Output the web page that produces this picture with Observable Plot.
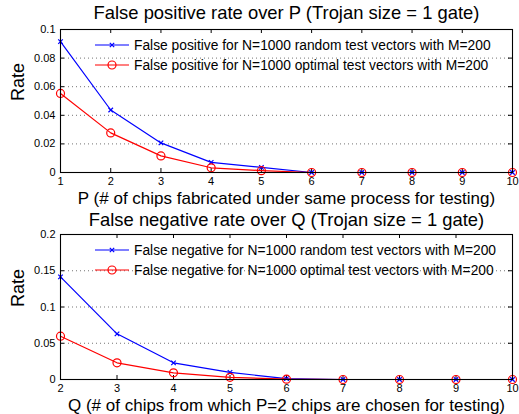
<!DOCTYPE html>
<html>
<head>
<meta charset="utf-8">
<script src="https://cdn.jsdelivr.net/npm/d3@7"></script>
<script src="https://cdn.jsdelivr.net/npm/@observablehq/plot@0.6"></script>
<style>
  html, body { margin: 0; padding: 0; background: #fff; }
  #chart { width: 519px; height: 414px; font-family: "Liberation Sans", Arial, Helvetica, sans-serif; }
  #chart svg { display: block; font-family: "Liberation Sans", Arial, Helvetica, sans-serif; }
</style>
</head>
<body>
<div id="chart"></div>
<script>
// ---- data ----
const P = [1, 2, 3, 4, 5, 6, 7, 8, 9, 10];
const fpRandom  = [0.0915, 0.0437, 0.0207, 0.0071, 0.0036, 0, 0, 0, 0, 0];
const fpOptimal = [0.0553, 0.0277, 0.0116, 0.0033, 0.0013, 0, 0, 0, 0, 0];

const Q = [2, 3, 4, 5, 6, 7, 8, 9, 10];
const fnRandom  = [0.1416, 0.0630, 0.0230, 0.0098, 0.0012, 0, 0, 0, 0];
const fnOptimal = [0.0597, 0.0230, 0.0092, 0.0030, 0.0004, 0, 0, 0, 0];

const yTicksTop = [0, 0.02, 0.04, 0.06, 0.08, 0.1];
const yTicksBottom = [0, 0.05, 0.1, 0.15, 0.2];

const titleTop = "False positive rate over P (Trojan size = 1 gate)";
const titleBottom = "False negative rate over Q (Trojan size = 1 gate)";
const xLabelTop = "P (# of chips fabricated under same process for testing)";
const xLabelBottom = "Q (# of chips from which P=2 chips are chosen for testing)";
const yLabel = "Rate";
const legendTop = ["False positive for N=1000 random test vectors with M=200",
                   "False positive for N=1000 optimal test vectors with M=200"];
const legendBottom = ["False negative for N=1000 random test vectors with M=200",
                      "False negative for N=1000 optimal test vectors with M=200"];

const BLUE = "#0000ff", RED = "#ff0000";

function panel({xs, s1, s2, yTicks, title, xLabel, legend, marginTop}) {
  const W = 519, H = 207, mL = 60, mR = 7, mB = 35;
  const frameW = W - mL - mR, frameH = H - marginTop - mB;
  const d1 = xs.map((x, i) => ({x, y: s1[i]}));
  const d2 = xs.map((x, i) => ({x, y: s2[i]}));
  const yMax = yTicks[yTicks.length - 1];
  const chart = Plot.plot({
    width: W, height: H,
    marginLeft: mL, marginRight: mR, marginTop, marginBottom: mB,
    style: {fontFamily: '"Liberation Sans", Arial, Helvetica, sans-serif', background: "#fff"},
    x: {domain: [xs[0], xs[xs.length - 1]]},
    y: {domain: [0, yMax]},
    marks: [
      Plot.gridY(yTicks.filter(d => d > 0 && d < yMax), {stroke: "#000", strokeOpacity: 0.55, strokeDasharray: "1,3"}),
      Plot.axisY(yTicks, {anchor: "left", tickSize: 0, tickPadding: 5, fontSize: 11, fill: "#000", tickFormat: d => String(d), label: null}),
      Plot.axisX(xs, {anchor: "bottom", tickSize: 0, tickPadding: 5, fontSize: 11, fill: "#000", tickFormat: d => String(d), label: null}),
      // inward ticks on all four sides
      Plot.tickX(xs, {x: d => d, insetTop: frameH - 4, stroke: "#000"}),
      Plot.tickX(xs, {x: d => d, insetBottom: frameH - 4, stroke: "#000"}),
      Plot.tickY(yTicks, {y: d => d, insetRight: frameW - 4, stroke: "#000"}),
      Plot.tickY(yTicks, {y: d => d, insetLeft: frameW - 4, stroke: "#000"}),
      Plot.line(d1, {x: "x", y: "y", stroke: BLUE, strokeWidth: 1.2}),
      Plot.dot(d1, {x: "x", y: "y", symbol: "times", r: 2.2, stroke: BLUE, strokeWidth: 1.2}),
      Plot.line(d2, {x: "x", y: "y", stroke: RED, strokeWidth: 1.2}),
      Plot.dot(d2, {x: "x", y: "y", symbol: "circle", r: 4, stroke: RED, fill: "none", strokeWidth: 1.2}),
      Plot.frame({stroke: "#000", strokeWidth: 1.1}),
      Plot.text([title], {frameAnchor: "top", dy: -(marginTop - 18), lineAnchor: "bottom", fontSize: 18.4, fill: "#000"}),
      Plot.text([xLabel], {frameAnchor: "bottom", dy: 31, lineAnchor: "bottom", fontSize: 17, fill: "#000"}),
      Plot.text([yLabel], {frameAnchor: "left", dx: -42, rotate: -90, lineAnchor: "middle", fontSize: 18, fill: "#000"})
    ]
  });
  // legend (no box), drawn inside the frame near top-left
  const svg = d3.select(chart);
  const g = svg.append("g").attr("text-anchor", "start");
  const colors = [BLUE, RED];
  legend.forEach((label, i) => {
    const y = marginTop + 16 + i * 20;
    g.append("line").attr("x1", 95).attr("x2", 129).attr("y1", y).attr("y2", y)
      .attr("stroke", colors[i]).attr("stroke-width", 1.2);
    if (i === 0) {
      const s = 2.2;
      g.append("path").attr("d", `M${112 - s},${y - s}L${112 + s},${y + s}M${112 - s},${y + s}L${112 + s},${y - s}`)
        .attr("stroke", BLUE).attr("stroke-width", 1.2);
    } else {
      g.append("circle").attr("cx", 112).attr("cy", y).attr("r", 4)
        .attr("stroke", RED).attr("fill", "none").attr("stroke-width", 1.2);
    }
    g.append("text").attr("x", 134).attr("y", y).attr("dy", "0.35em")
      .attr("text-anchor", "start")
      .attr("font-size", 13.8).attr("fill", "#000").text(label);
  });
  return chart;
}

const root = document.getElementById("chart");
root.appendChild(panel({xs: P, s1: fpRandom, s2: fpOptimal, yTicks: yTicksTop,
  title: titleTop, xLabel: xLabelTop, legend: legendTop, marginTop: 29}));
root.appendChild(panel({xs: Q, s1: fnRandom, s2: fnOptimal, yTicks: yTicksBottom,
  title: titleBottom, xLabel: xLabelBottom, legend: legendBottom, marginTop: 27}));
</script>
</body>
</html>
